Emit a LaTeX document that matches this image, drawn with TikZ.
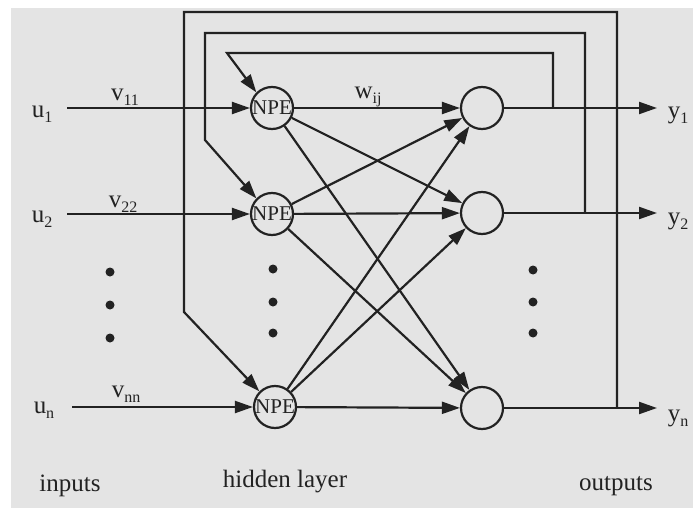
\documentclass[tikz,border=0pt]{standalone}
\usepackage{fontspec}
\setmainfont{Liberation Serif}
\usetikzlibrary{arrows.meta}
\definecolor{paper}{HTML}{E4E4E4}
\definecolor{ink}{HTML}{222222}
% letter with a lowered index
\newcommand{\idx}[2]{#1\raisebox{-0.45ex}{\fontsize{16}{16}\selectfont #2}}
\tikzset{
  neuron/.style={circle, draw=ink, line width=2.2pt, minimum size=42pt, inner sep=0pt,
                 text=ink, font=\fontsize{21}{21}\selectfont},
  wire/.style={draw=ink, line width=2.2pt},
  flow/.style={wire, -{Triangle[length=18pt,width=12pt]}},
  txt/.style={inner sep=0pt, text=ink, font=\fontsize{25}{25}\selectfont},
  dot/.style={circle, fill=ink, minimum size=9pt, inner sep=0pt}
}
\begin{document}
\begin{tikzpicture}[x=1pt,y=-1pt]
\useasboundingbox (0,0) rectangle (693,508);
\fill[white] (0,0) rectangle (693,508);
\fill[paper] (11,8) rectangle (693,508);

% hidden layer
\node[neuron] (h1) at (272,108) {NPE};
\node[neuron] (h2) at (272,214) {NPE};
\node[neuron] (hn) at (275,407) {NPE};
% output layer
\node[neuron] (o1) at (482,108) {};
\node[neuron] (o2) at (482,213) {};
\node[neuron] (on) at (482,408) {};

% inputs
\node[txt] (u1) at (42,114) {\idx{u}{1}};
\node[txt] (u2) at (42,219) {\idx{u}{2}};
\node[txt] (un) at (44,410) {\idx{u}{n}};
\coordinate (s1) at (67,108);
\coordinate (s2) at (67,214);
\coordinate (sn) at (72,407);
\draw[flow] (s1) -- (h1);
\draw[flow] (s2) -- (h2);
\draw[flow] (sn) -- (hn);
\node[txt] (v1) at (125,97) {\idx{v}{11}};
\node[txt] (v2) at (123,204) {\idx{v}{22}};
\node[txt] (vn) at (126,394) {\idx{v}{nn}};

% hidden to output connections
\foreach \a in {h1,h2,hn}
  \foreach \b in {o1,o2,on}
    \draw[flow] (\a) -- (\b);
\node[txt] (w) at (368,97) {\idx{w}{ij}};

% outputs
\coordinate (e1) at (657,108);
\coordinate (e2) at (657,213);
\coordinate (en) at (657,408);
\draw[flow] (o1) -- (e1);
\draw[flow] (o2) -- (e2);
\draw[flow] (on) -- (en);
\node[txt] (y1) at (678,115) {\idx{y}{1}};
\node[txt] (y2) at (678,221) {\idx{y}{2}};
\node[txt] (yn) at (678,418) {\idx{y}{n}};

% feedback loops
\coordinate (f1a) at (553,108);
\coordinate (f1b) at (227,53);
\draw[flow] (f1a) |- (f1b) -- (h1.north west);
\coordinate (f2a) at (585,213);
\coordinate (f2b) at (205,33);
\coordinate (f2c) at (205,140);
\draw[flow] (f2a) |- (f2b) -- (f2c) -- (h2.north west);
\coordinate (f3a) at (617,408);
\coordinate (f3b) at (184,12);
\coordinate (f3c) at (184,312);
\draw[flow] (f3a) |- (f3b) -- (f3c) -- (hn.north west);

% ellipsis dots
\node[dot] (dl1) at (110,272) {};
\node[dot] (dl2) at (110,305) {};
\node[dot] (dl3) at (110,338) {};
\node[dot] (dm1) at (273,269) {};
\node[dot] (dm2) at (273,302) {};
\node[dot] (dm3) at (273,333) {};
\node[dot] (dr1) at (533,270) {};
\node[dot] (dr2) at (533,302) {};
\node[dot] (dr3) at (533,333) {};

% layer captions
\node[txt] (ci) at (70,486) {inputs};
\node[txt] (ch) at (285,482) {hidden layer};
\node[txt] (co) at (616,486) {outputs};
\end{tikzpicture}
\end{document}
